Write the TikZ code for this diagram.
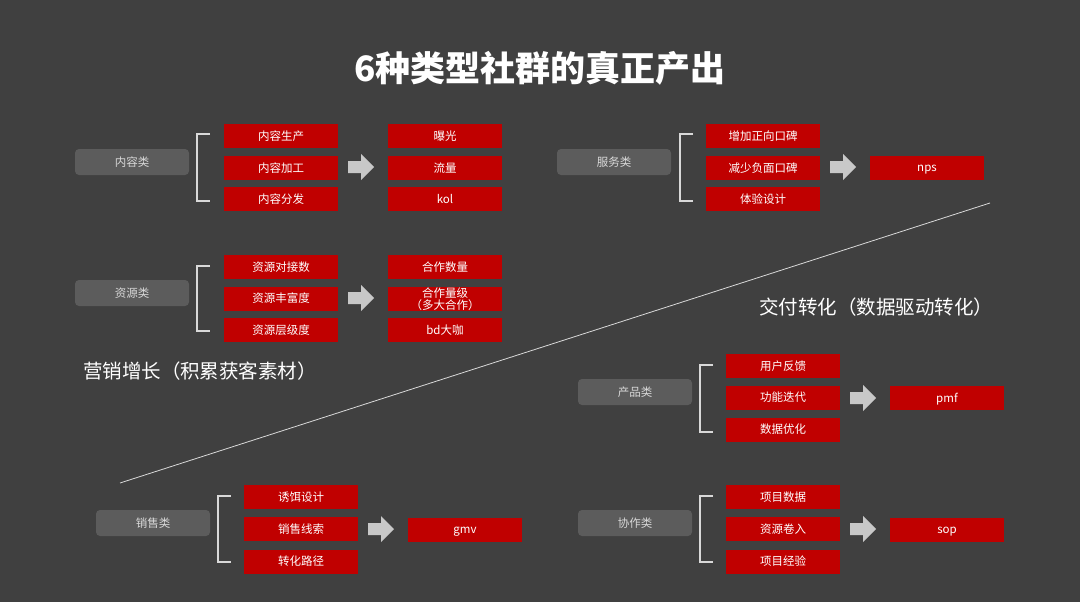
\documentclass[tikz,border=0pt]{standalone}
\usepackage{fontspec}
\setmainfont{Noto Sans CJK SC}
\begin{document}
\begin{tikzpicture}[x=1pt,y=-1pt,
 redbase/.style={fill=boxred,text=white,minimum width=114pt,minimum height=24pt,inner sep=0pt,font=\fontsize{11.5}{12}\selectfont},
 redbox/.style={redbase,text height=9.5pt,text depth=1.5pt},
 graybox/.style={fill=boxgray,rounded corners=4pt,text=white!85!black,minimum width=114pt,minimum height=26pt,inner sep=0pt,font=\fontsize{11.5}{12}\selectfont},
 brk/.style={draw=white!85!black,line width=1.3pt},
 bigtext/.style={text=white,font=\fontsize{19.5}{22}\selectfont}]
\definecolor{bg}{HTML}{404040}
\definecolor{boxred}{HTML}{C00000}
\definecolor{boxgray}{HTML}{5C5C5C}
\definecolor{arrowgray}{HTML}{C8C8C8}
\fill[bg] (0,0) rectangle (1080,602);
\useasboundingbox (0,0) rectangle (1080,602);
\newcommand\bigarr[2]{\fill[arrowgray] (#1,#2-6)--(#1+13,#2-6)--(#1+13,#2-13)--(#1+26,#2)--(#1+13,#2+13)--(#1+13,#2+6)--(#1,#2+6)--cycle;}
\newcommand\brkt[3]{\draw[brk] (#1+13,#2)--(#1,#2)--(#1,#3)--(#1+13,#3);}

\node[text=white,font=\bfseries\fontsize{35}{40}\selectfont] (title) at (540,68) {6种类型社群的真正产出};

% 内容类
\node[graybox] (g1) at (132,162) {内容类};
\brkt{197}{134}{201}
\node[redbox] (a1) at (281,136) {内容生产};
\node[redbox] (a2) at (281,168) {内容加工};
\node[redbox] (a3) at (281,199) {内容分发};
\bigarr{348}{167}
\node[redbox] (o1) at (445,136) {曝光};
\node[redbox] (o2) at (445,168) {流量};
\node[redbox] (o3) at (445,199) {kol};

% 资源类
\node[graybox] (g2) at (132,293) {资源类};
\brkt{197}{266}{331}
\node[redbox] (b1) at (281,267) {资源对接数};
\node[redbox] (b2) at (281,298.5) {资源丰富度};
\node[redbox] (b3) at (281,330) {资源层级度};
\bigarr{348}{298}
\node[redbox] (p1) at (445,267) {合作数量};
\node[redbase,align=center,font=\fontsize{11.5}{12.5}\selectfont] (p2) at (445,299) {合作量级\\（多大合作）};
\node[redbox] (p3) at (445,330) {bd大咖};

% 服务类
\node[graybox] (g3) at (614,162) {服务类};
\brkt{680}{134}{201}
\node[redbox] (c1) at (763,136) {增加正向口碑};
\node[redbox] (c2) at (763,168) {减少负面口碑};
\node[redbox] (c3) at (763,199) {体验设计};
\bigarr{830}{167}
\node[redbox] (q1) at (927,167.5) {nps};

% divider
\coordinate (l1) at (120,483);
\coordinate (l2) at (990,203);
\draw[white!85!black,line width=0.8pt] (l1)--(l2);
\node[bigtext] (t1) at (876,307) {交付转化（数据驱动转化）};
\node[bigtext] (t2) at (200,371) {营销增长（积累获客素材）};

% 产品类
\node[graybox] (g4) at (635,392) {产品类};
\brkt{700}{365}{432}
\node[redbox] (d1) at (783,366) {用户反馈};
\node[redbox] (d2) at (783,397.5) {功能迭代};
\node[redbox] (d3) at (783,429.5) {数据优化};
\bigarr{850}{398}
\node[redbox] (r1) at (947,398) {pmf};

% 销售类
\node[graybox] (g5) at (153,523) {销售类};
\brkt{218}{496}{562}
\node[redbox] (e1) at (301,497) {诱饵设计};
\node[redbox] (e2) at (301,529) {销售线索};
\node[redbox] (e3) at (301,561.5) {转化路径};
\bigarr{368}{529}
\node[redbox] (s1) at (465,529.5) {gmv};

% 协作类
\node[graybox] (g6) at (635,523) {协作类};
\brkt{700}{496}{562}
\node[redbox] (f1) at (783,497) {项目数据};
\node[redbox] (f2) at (783,529) {资源卷入};
\node[redbox] (f3) at (783,561.5) {项目经验};
\bigarr{850}{529}
\node[redbox] (u1) at (947,529.5) {sop};
\end{tikzpicture}
\end{document}
